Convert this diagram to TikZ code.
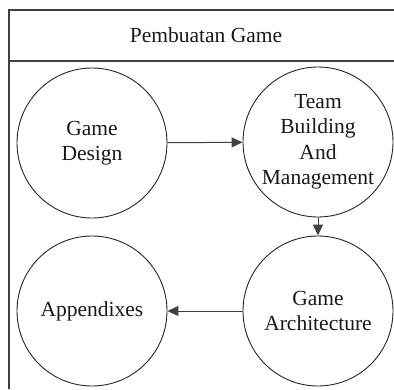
\documentclass[tikz,border=0pt]{standalone}
\usepackage{fontspec}
\setmainfont{Liberation Serif}
\usetikzlibrary{arrows.meta}
\begin{document}
\begin{tikzpicture}[x=1pt,y=-1pt,
  stage/.style={circle,draw=black!85,line width=0.9pt,minimum size=150pt,inner sep=0pt,
    align=center,font=\fontsize{21.5}{25.5}\selectfont,text=black!90},
  flow/.style={draw=black!75,line width=1pt,-{Triangle[length=11pt,width=10pt]}},
  frame/.style={draw=black!75,line width=1.1pt}]
  \useasboundingbox (0,0) rectangle (394,389);
  % outer frame and title bar
  \draw[frame] (394,10) -- (9,10) -- (9,389);
  \draw[frame] (9,61) -- (394,61);
  \node[font=\fontsize{21.5}{25}\selectfont,text=black!90] (title) at (206,35) {Pembuatan Game};
  % stages
  \node[stage] (design) at (92,143) {Game\\Design};
  \node[stage] (team) at (318,142) {Team\\Building\\And\\Management};
  \node[stage] (arch) at (318,311) {Game\\Architecture};
  \node[stage] (appx) at (92,311) {Appendixes};
  % flow between stages
  \draw[flow] (design) -- (team);
  \draw[flow] (team) -- (arch);
  \draw[flow] (arch) -- (appx);
\end{tikzpicture}
\end{document}
